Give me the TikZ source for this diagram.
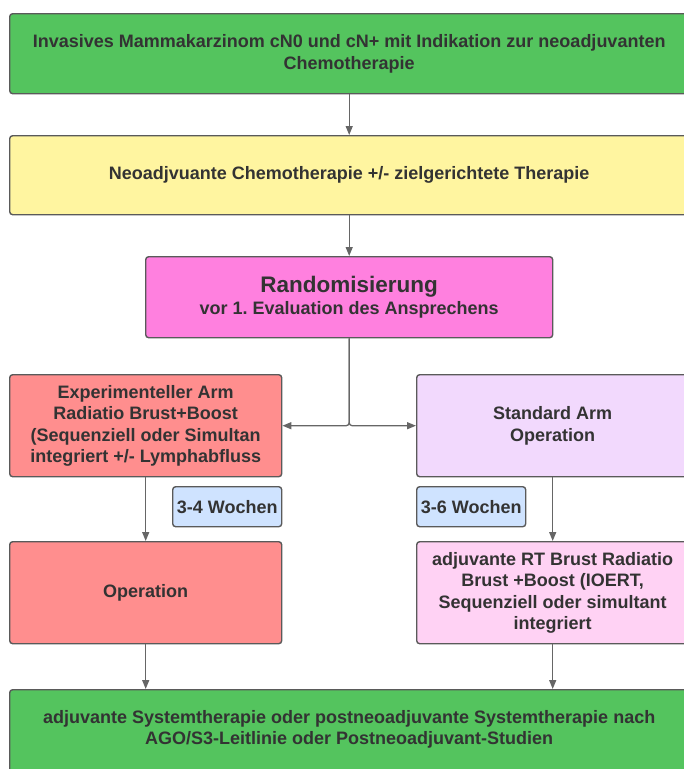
\documentclass[tikz,border=0pt]{standalone}
\usepackage{fontspec}
\setmainfont{Liberation Sans}
\usetikzlibrary{arrows.meta}
\frenchspacing
\definecolor{cgreen}{HTML}{54C45E}
\definecolor{cyellow}{HTML}{FFF5A0}
\definecolor{cmagenta}{HTML}{FF80DF}
\definecolor{csalmon}{HTML}{FF8E8E}
\definecolor{clav}{HTML}{F2D9FD}
\definecolor{cpink}{HTML}{FFD2F4}
\definecolor{cblue}{HTML}{CFE3FF}
\definecolor{cborder}{HTML}{5A5A5A}
\definecolor{ctext}{HTML}{333333}
\definecolor{carrow}{HTML}{666666}
\tikzset{
  box/.style={draw=cborder, line width=1.4pt, rounded corners=3pt, anchor=north west,
    inner sep=0pt, align=center, text=ctext, font=\fontsize{18}{21.5}\selectfont\bfseries\frenchspacing},
  arr/.style={draw=carrow, line width=1.3pt, -{Triangle[length=9pt,width=7pt]}},
}
\begin{document}
\begin{tikzpicture}[x=1pt,y=1pt]
\useasboundingbox (0,0) rectangle (684,-769);
\clip (0,0) rectangle (684,-769);
\node[box, fill=cgreen, minimum width=679, minimum height=80] (top) at (9,-13)
  {Invasives Mammakarzinom cN0 und cN+ mit Indikation zur neoadjuvanten\\Chemotherapie};
\node[box, fill=cyellow, minimum width=679, minimum height=79] (neo) at (9,-135)
  {Neoadjvuante Chemotherapie +/- zielgerichtete Therapie};
\node[box, fill=cmagenta, minimum width=407, minimum height=81] (rand) at (145,-256)
  {{\fontsize{22.5}{24}\selectfont Randomisierung}\\vor 1. Evaluation des Ansprechens};
\node[box, fill=csalmon, minimum width=272, minimum height=102] (exp) at (9,-374)
  {Experimenteller Arm\\Radiatio Brust+Boost\\(Sequenziell oder Simultan\\integriert +/- Lymphabfluss};
\node[box, fill=clav, minimum width=272, minimum height=102] (std) at (416,-374)
  {Standard Arm\\Operation};
\node[box, fill=cblue, minimum width=109, minimum height=40] (wk1) at (172,-486)
  {3-4 Wochen};
\node[box, fill=cblue, minimum width=109, minimum height=40] (wk2) at (416,-486)
  {3-6 Wochen};
\node[box, fill=csalmon, minimum width=272, minimum height=102] (op) at (9,-541)
  {Operation};
\node[box, fill=cpink, minimum width=272, minimum height=102] (rt) at (416,-541)
  {adjuvante RT Brust Radiatio\\Brust +Boost (IOERT,\\Sequenziell oder simultant\\integriert};
\node[box, fill=cgreen, minimum width=679, minimum height=100] (bot) at (9,-689)
  {adjuvante Systemtherapie oder postneoadjuvante Systemtherapie nach\\AGO/S3-Leitlinie oder Postneoadjuvant-Studien\\[3pt]};
\draw[arr] (top.south) -- (neo.north);
\draw[arr] (neo.south) -- (rand.north);
\draw[arr, rounded corners=3pt] (rand.south) |- (exp.east);
\draw[arr, rounded corners=3pt] (rand.south) |- (std.west);
\draw[arr] (exp.south) -- (op.north);
\draw[arr] (std.south) -- (rt.north);
\draw[arr] (op.south) -- (op.south |- bot.north);
\draw[arr] (rt.south) -- (rt.south |- bot.north);
\end{tikzpicture}
\end{document}
